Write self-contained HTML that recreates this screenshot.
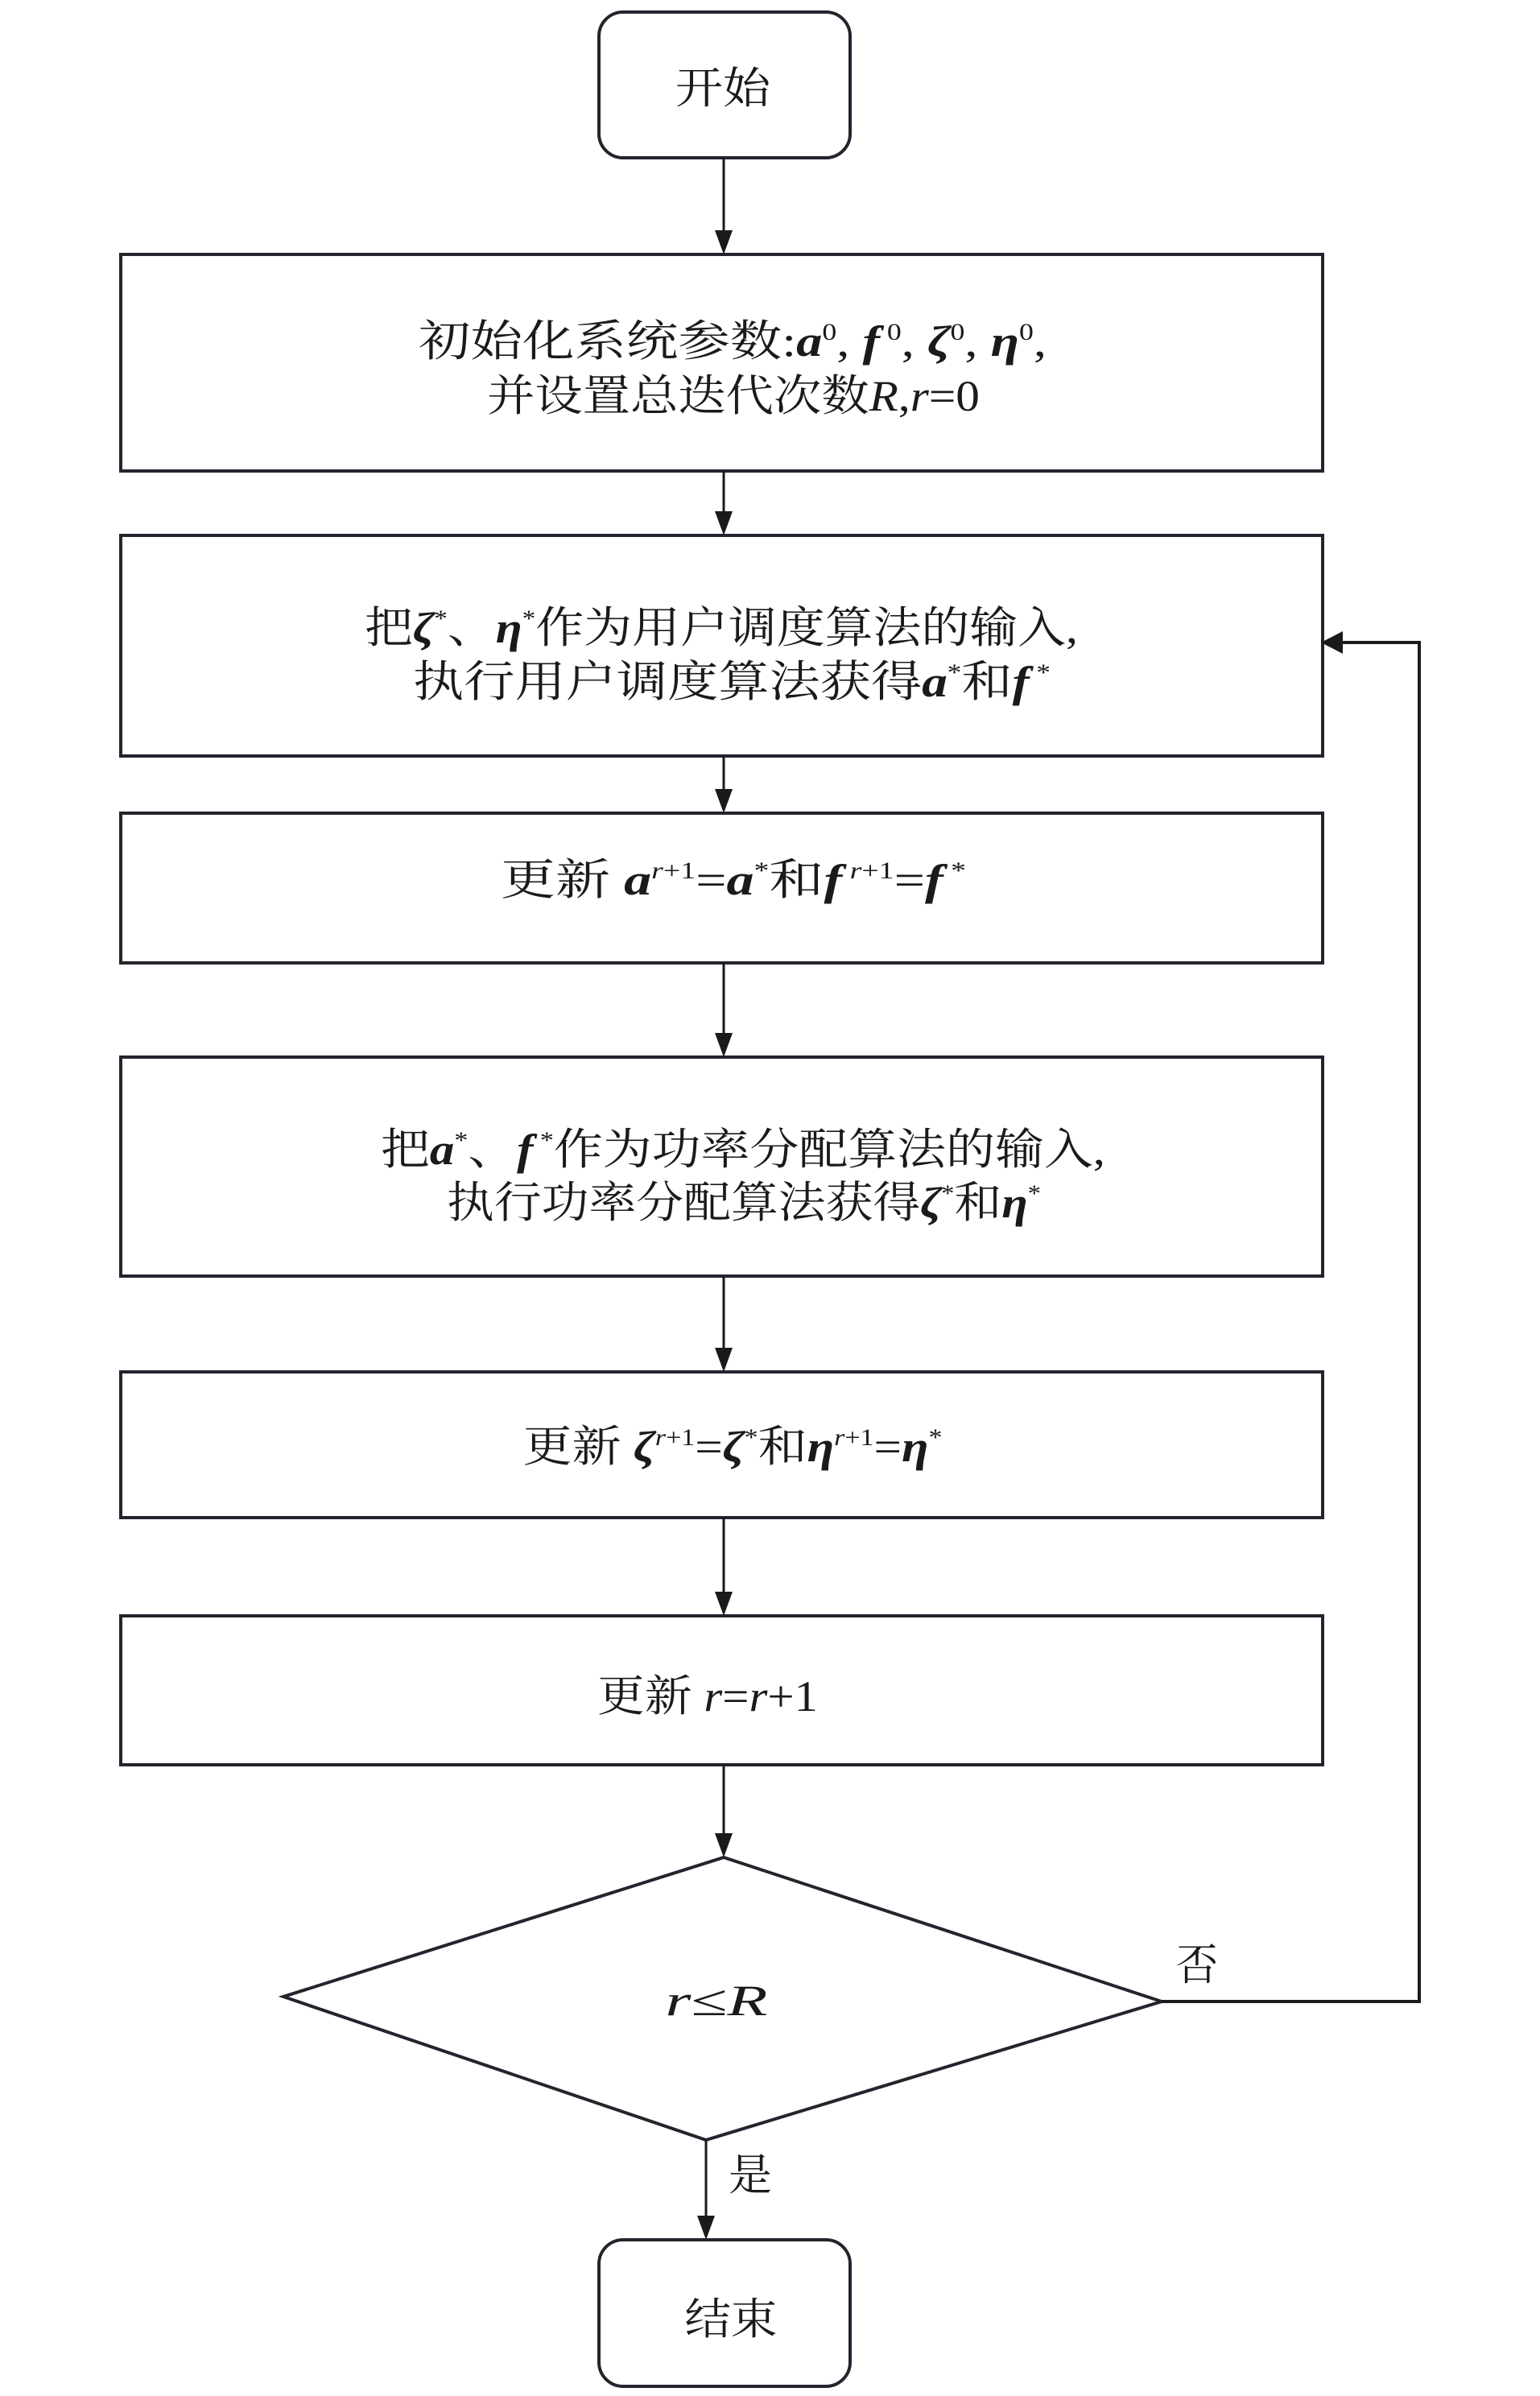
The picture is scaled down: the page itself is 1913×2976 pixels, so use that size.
<!DOCTYPE html>
<html><head><meta charset="utf-8">
<style>
html,body{margin:0;padding:0;background:#fff;}
svg{display:block;}
text{font-family:"Liberation Serif","Noto Serif CJK SC",serif;fill:#1a1a1a;}
.m{font-weight:bold;font-style:italic;}
.i{font-style:italic;}
</style></head>
<body>
<svg width="1913" height="2976" viewBox="0 0 1913 2976" xmlns="http://www.w3.org/2000/svg">
<defs>
<marker id="ah" markerWidth="10" markerHeight="10" refX="9" refY="5" orient="auto" markerUnits="userSpaceOnUse" viewBox="0 0 10 10"></marker>
</defs>
<g fill="none" stroke="#26232e" stroke-width="4">
<rect x="744" y="15" width="312" height="181" rx="30"/>
<rect x="150" y="316" width="1493" height="269"/>
<rect x="150" y="665" width="1493" height="274"/>
<rect x="150" y="1010" width="1493" height="186"/>
<rect x="150" y="1313" width="1493" height="272"/>
<rect x="150" y="1704" width="1493" height="181"/>
<rect x="150" y="2007" width="1493" height="185"/>
<polygon points="899,2307 1443,2486 877,2658 352,2480"/>
<rect x="744" y="2782" width="312" height="182" rx="30"/>
</g>
<g stroke="#1a1a1a" stroke-width="3" fill="none">
<line x1="899" y1="196" x2="899" y2="290"/>
<line x1="899" y1="585" x2="899" y2="640"/>
<line x1="899" y1="939" x2="899" y2="985"/>
<line x1="899" y1="1196" x2="899" y2="1288"/>
<line x1="899" y1="1585" x2="899" y2="1679"/>
<line x1="899" y1="1885" x2="899" y2="1982"/>
<line x1="899" y1="2192" x2="899" y2="2282"/>
<line x1="877" y1="2658" x2="877" y2="2757"/>
<polyline points="1443,2486 1763,2486 1763,798 1665,798" stroke-width="4"/>
</g>
<g fill="#1a1a1a">
<polygon points="888,286 910,286 899,316"/>
<polygon points="888,635 910,635 899,665"/>
<polygon points="888,980 910,980 899,1010"/>
<polygon points="888,1283 910,1283 899,1313"/>
<polygon points="888,1674 910,1674 899,1704"/>
<polygon points="888,1977 910,1977 899,2007"/>
<polygon points="888,2277 910,2277 899,2307"/>
<polygon points="866,2752 888,2752 877,2782"/>
<polygon points="1668,784 1668,812 1641,798"/>
</g>
<g font-size="54" text-anchor="middle">
<text x="898" y="128" textLength="118" lengthAdjust="spacingAndGlyphs">开始</text>
<text x="910" y="442" textLength="780" lengthAdjust="spacingAndGlyphs">初始化系统参数:<tspan class="m">a</tspan><tspan font-size="30" dy="-20">0</tspan><tspan dy="20">, </tspan><tspan class="m">f</tspan><tspan font-size="30" dy="-20"> 0</tspan><tspan dy="20">, </tspan><tspan class="m">ζ</tspan><tspan font-size="30" dy="-20">0</tspan><tspan dy="20">, </tspan><tspan class="m">η</tspan><tspan font-size="30" dy="-20">0</tspan><tspan dy="20">,</tspan></text>
<text x="911" y="510" textLength="612" lengthAdjust="spacingAndGlyphs">并设置总迭代次数<tspan class="i">R</tspan>,<tspan class="i">r</tspan>=0</text>
<text x="896" y="798" textLength="886" lengthAdjust="spacingAndGlyphs">把<tspan class="m">ζ</tspan><tspan font-size="30" dy="-20">*</tspan><tspan dy="20">、</tspan><tspan class="m">η</tspan><tspan font-size="30" dy="-20">*</tspan><tspan dy="20">作为用户调度算法的输入,</tspan></text>
<text x="909" y="865" textLength="792" lengthAdjust="spacingAndGlyphs">执行用户调度算法获得<tspan class="m">a</tspan><tspan font-size="30" dy="-20">*</tspan><tspan dy="20">和</tspan><tspan class="m">f</tspan><tspan font-size="30" dy="-20"> *</tspan></text>
<text x="911" y="1111" textLength="578" lengthAdjust="spacingAndGlyphs">更新 <tspan class="m">a</tspan><tspan font-size="30" dy="-20" class="i">r</tspan><tspan font-size="30">+1</tspan><tspan dy="20">=</tspan><tspan class="m">a</tspan><tspan font-size="30" dy="-20">*</tspan><tspan dy="20">和</tspan><tspan class="m">f</tspan><tspan font-size="30" dy="-20" class="i"> r</tspan><tspan font-size="30">+1</tspan><tspan dy="20">=</tspan><tspan class="m">f</tspan><tspan font-size="30" dy="-20"> *</tspan></text>
<text x="923" y="1446" textLength="900" lengthAdjust="spacingAndGlyphs">把<tspan class="m">a</tspan><tspan font-size="30" dy="-20">*</tspan><tspan dy="20">、</tspan><tspan class="m">f</tspan><tspan font-size="30" dy="-20"> *</tspan><tspan dy="20">作为功率分配算法的输入,</tspan></text>
<text x="924" y="1512" textLength="738" lengthAdjust="spacingAndGlyphs">执行功率分配算法获得<tspan class="m">ζ</tspan><tspan font-size="30" dy="-20">*</tspan><tspan dy="20">和</tspan><tspan class="m">η</tspan><tspan font-size="30" dy="-20">*</tspan></text>
<text x="910" y="1815" textLength="521" lengthAdjust="spacingAndGlyphs">更新 <tspan class="m">ζ</tspan><tspan font-size="30" dy="-20" class="i">r</tspan><tspan font-size="30">+1</tspan><tspan dy="20">=</tspan><tspan class="m">ζ</tspan><tspan font-size="30" dy="-20">*</tspan><tspan dy="20">和</tspan><tspan class="m">η</tspan><tspan font-size="30" dy="-20" class="i">r</tspan><tspan font-size="30">+1</tspan><tspan dy="20">=</tspan><tspan class="m">η</tspan><tspan font-size="30" dy="-20">*</tspan></text>
<text x="879" y="2125" textLength="274" lengthAdjust="spacingAndGlyphs">更新 <tspan class="i">r</tspan>=<tspan class="i">r</tspan>+1</text>
<text x="890" y="2503" textLength="127" lengthAdjust="spacingAndGlyphs"><tspan class="i">r</tspan>≤<tspan class="i">R</tspan></text>
<text x="1487" y="2459" textLength="52" lengthAdjust="spacingAndGlyphs">否</text>
<text x="932" y="2720" textLength="54" lengthAdjust="spacingAndGlyphs">是</text>
<text x="908" y="2899" textLength="115" lengthAdjust="spacingAndGlyphs">结束</text>
</g>
</svg>
</body></html>
